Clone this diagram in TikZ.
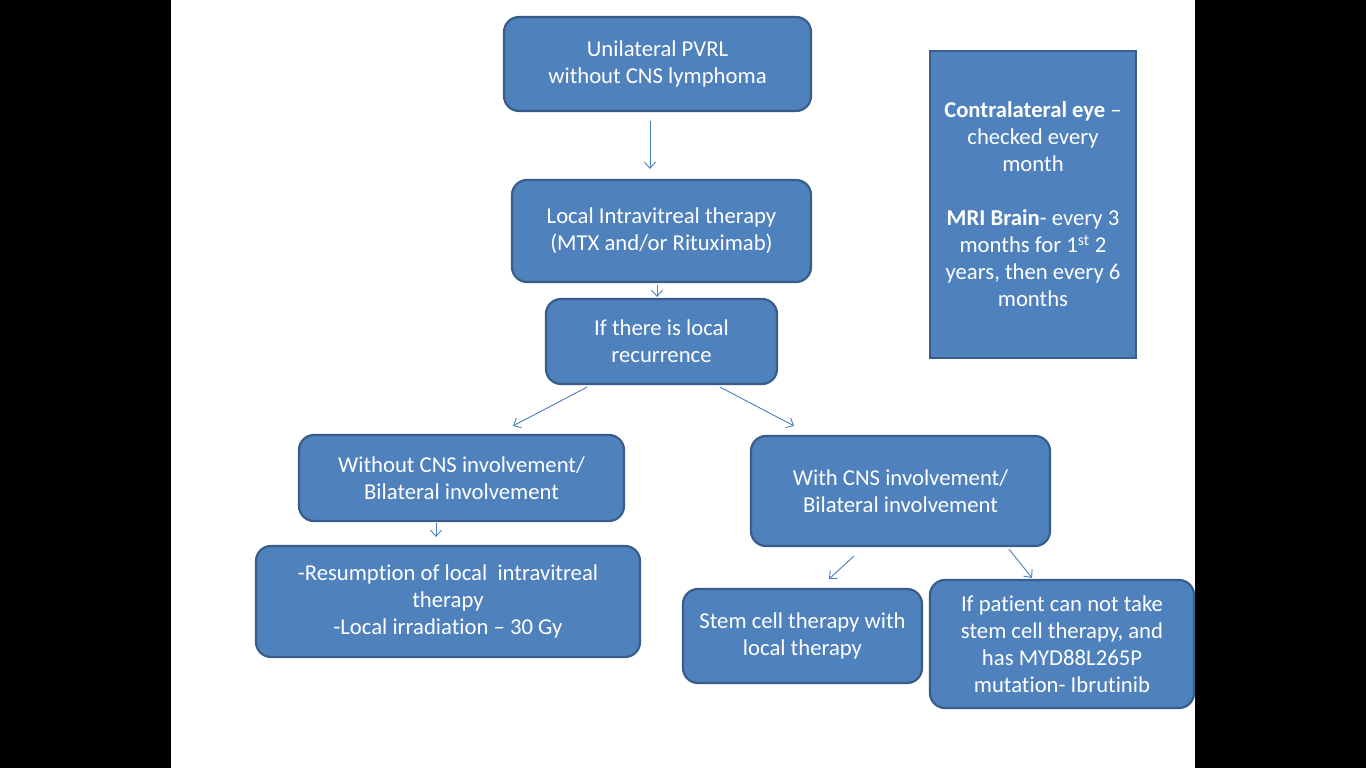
\documentclass[tikz,border=0pt]{standalone}
\usepackage{fontspec}
\setmainfont{Carlito}[Ligatures={NoCommon}]
\usetikzlibrary{arrows.meta}
\definecolor{boxfill}{HTML}{4F81BD}
\definecolor{boxline}{HTML}{385D8A}
\definecolor{arrcol}{HTML}{4A7EBB}
\tikzset{
  box/.style={draw=boxline, line width=2.2pt, fill=boxfill, rounded corners=15pt,
    text=white, align=center, font=\fontsize{22.7pt}{27pt}\selectfont, inner sep=0pt},
  sqbox/.style={box, rounded corners=0pt},
  arr/.style={draw=arrcol, line width=0.9pt, -{Straight Barb[length=6pt,width=11pt,line width=0.9pt]}}
}
\begin{document}
\begin{tikzpicture}[x=1pt,y=-1pt]
\useasboundingbox (0,0) rectangle (1366,768);
\fill[black] (0,0) rectangle (1366,768);
\fill[white] (171,0) rectangle (1195,768);

\node[box, minimum width=307pt, minimum height=94pt] (b1) at (657.5,64) {Unilateral PVRL\\without CNS lymphoma};
\node[box, minimum width=299pt, minimum height=102pt] (b2) at (661.5,231) {Local Intravitreal therapy\\(MTX and/or Rituximab)};
\node[box, minimum width=231pt, minimum height=85pt] (b3) at (661.5,341.5) {If there is local\\recurrence};
\node[box, minimum width=325pt, minimum height=86pt] (b4) at (461.5,478) {Without CNS involvement/\\Bilateral involvement};
\node[box, minimum width=384pt, minimum height=111pt] (b5) at (448,601.5) {-Resumption of local\ \ intravitreal\\therapy\\-Local irradiation -- 30 Gy};
\node[box, minimum width=299pt, minimum height=110pt] (b6) at (900.5,491) {With CNS involvement/\\Bilateral involvement};
\node[box, minimum width=239pt, minimum height=94pt] (b7) at (802.5,636) {Stem cell therapy with\\local therapy};
\node[box, minimum width=264pt, minimum height=128pt] (b8) at (1062,644) {If patient can not take\\stem cell therapy, and\\has MYD88L265P\\mutation- Ibrutinib};
\node[sqbox, minimum width=206pt, minimum height=307pt] (b9) at (1033,204.5) {\textbf{Contralateral eye} --\\checked every\\month\\[27pt]\textbf{MRI Brain}- every 3\\months for 1\textsuperscript{st} 2\\years, then every 6\\months};

\draw[arr] ([xshift=-7.5pt,yshift=-9pt]b1.south) -- ([xshift=-11.5pt,yshift=10pt]b2.north);
\draw[arr] ([xshift=-4.5pt,yshift=-2pt]b2.south) -- ([xshift=-4.5pt,yshift=1pt]b3.north);
\draw[arr] ([xshift=-74.5pt,yshift=-2pt]b3.south) -- ([xshift=51.5pt,yshift=8pt]b4.north);
\draw[arr] ([xshift=58.5pt,yshift=-2pt]b3.south) -- ([xshift=-106.5pt,yshift=9pt]b6.north);
\draw[arr] ([xshift=-25.5pt,yshift=-1pt]b4.south) -- ([xshift=-12pt,yshift=8pt]b5.north);
\draw[arr] ([xshift=-46.5pt,yshift=-9pt]b6.south) -- ([xshift=26.5pt,yshift=9pt]b7.north);
\draw[arr] ([xshift=108.5pt,yshift=-2pt]b6.south) -- ([xshift=-30pt,yshift=1pt]b8.north);
\end{tikzpicture}
\end{document}
